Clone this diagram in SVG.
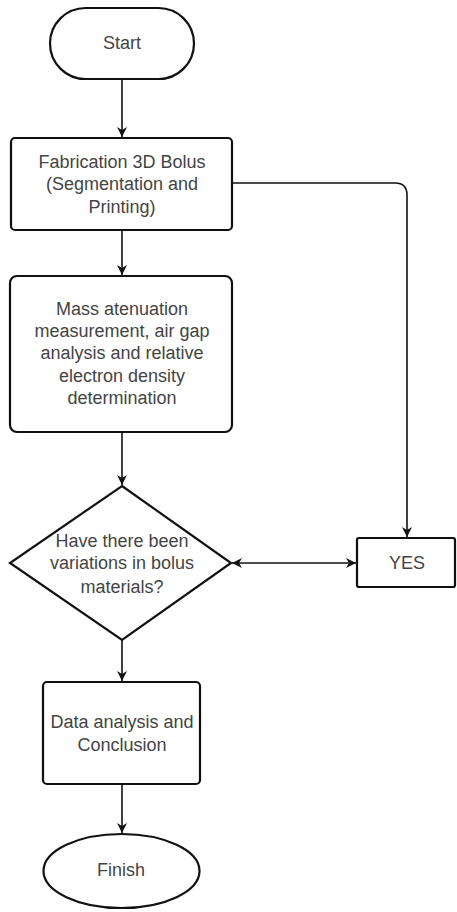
<svg xmlns="http://www.w3.org/2000/svg" width="457" height="912" viewBox="0 0 457 912">
<defs>
<marker id="ah" viewBox="0 0 10 10" refX="10" refY="5" markerWidth="10" markerHeight="10" markerUnits="userSpaceOnUse" orient="auto-start-reverse">
<path d="M0,0 L10,5 L0,10 L3,5 z" fill="#111"/>
</marker>
<style>
.shape{fill:#fff;stroke:#111;stroke-width:2.2}
.conn{fill:none;stroke:#111;stroke-width:1.6}
text{font-family:"Liberation Sans",Arial,sans-serif;font-size:18px;fill:#444;text-anchor:middle;dominant-baseline:central}
</style>
</defs>
<rect width="457" height="912" fill="#fff"/>
<g id="connectors">
<line class="conn" x1="122" y1="80" x2="122" y2="137" marker-end="url(#ah)"/>
<line class="conn" x1="122" y1="230" x2="122" y2="275" marker-end="url(#ah)"/>
<line class="conn" x1="122" y1="432" x2="122" y2="485" marker-end="url(#ah)"/>
<path class="conn" d="M232,183 H395 Q407,183 407,195 V537" marker-end="url(#ah)"/>
<line class="conn" x1="232" y1="563" x2="356" y2="563" marker-start="url(#ah)" marker-end="url(#ah)"/>
<line class="conn" x1="122" y1="640" x2="122" y2="681" marker-end="url(#ah)"/>
<line class="conn" x1="122" y1="784" x2="122" y2="833" marker-end="url(#ah)"/>
</g>
<g id="start">
<rect class="shape" x="50" y="8" width="144" height="71" rx="35.5"/>
<text x="122" y="43">Start</text>
</g>
<g id="fabrication">
<rect class="shape" x="11" y="138" width="221" height="92" rx="4"/>
<text x="122" y="162">Fabrication 3D Bolus</text>
<text x="122" y="184">(Segmentation and</text>
<text x="122" y="207">Printing)</text>
</g>
<g id="measurement">
<rect class="shape" x="10" y="276" width="222" height="156" rx="7"/>
<text x="122" y="309">Mass atenuation</text>
<text x="122" y="331">measurement, air gap</text>
<text x="122" y="353">analysis and relative</text>
<text x="122" y="376">electron density</text>
<text x="122" y="398">determination</text>
</g>
<g id="decision">
<polygon class="shape" points="122,486 231,563 122,640 10,563"/>
<text x="122" y="541">Have there been</text>
<text x="122" y="563">variations in bolus</text>
<text x="122" y="587">materials?</text>
</g>
<g id="yes">
<rect class="shape" x="357" y="538" width="98" height="49" rx="2"/>
<text x="407" y="563">YES</text>
</g>
<g id="analysis">
<rect class="shape" x="43" y="682" width="157" height="102" rx="4"/>
<text x="122" y="722">Data analysis and</text>
<text x="122" y="745">Conclusion</text>
</g>
<g id="finish">
<ellipse class="shape" cx="121.5" cy="871" rx="78" ry="37"/>
<text x="121" y="870">Finish</text>
</g>
</svg>
